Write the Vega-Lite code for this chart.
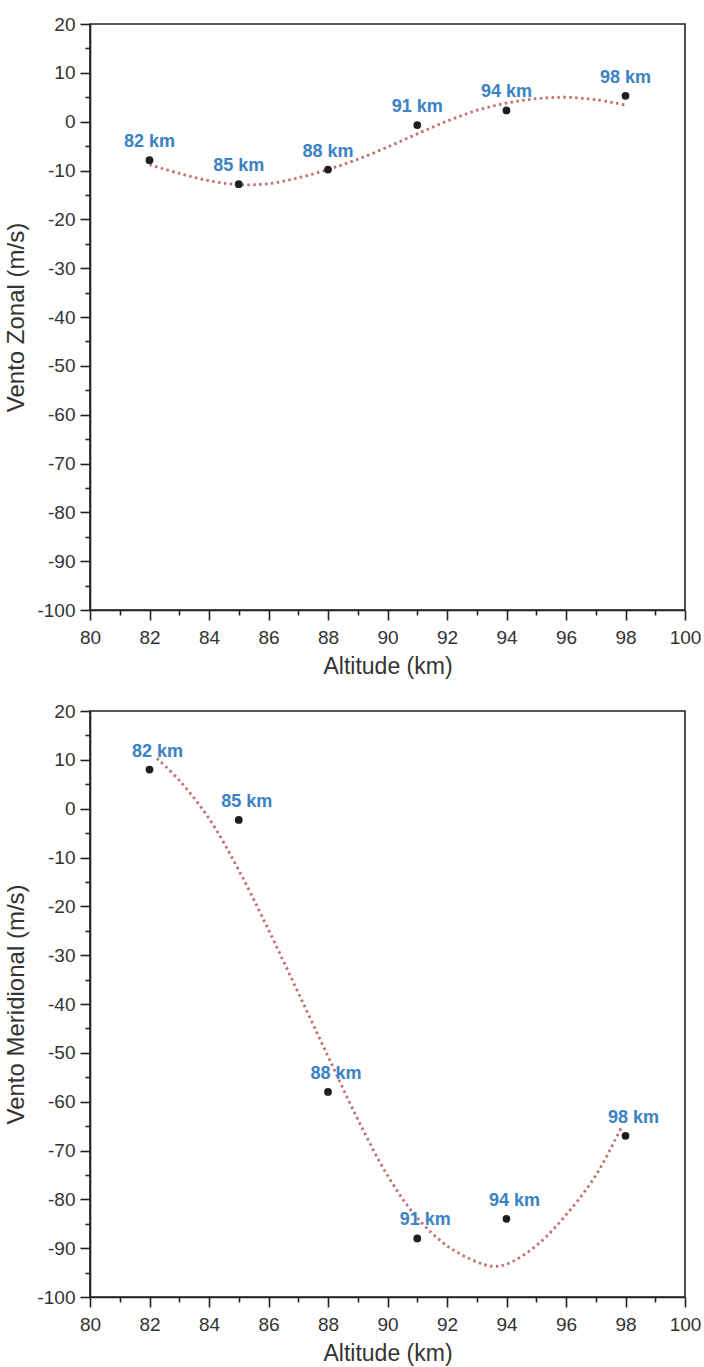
{
  "$schema": "https://vega.github.io/schema/vega-lite/v6.json",
  "background": "white",
  "padding": {"left": 4, "top": 14, "right": 4, "bottom": 0},
  "spacing": 22,
  "config": {
    "font": "Liberation Sans",
    "view": {"stroke": "#222", "strokeWidth": 1.6},
    "axis": {
      "grid": false,
      "domainColor": "#222",
      "domainWidth": 1.6,
      "tickColor": "#222",
      "tickWidth": 1.6,
      "labelColor": "#333",
      "labelFontSize": 19,
      "labelPadding": 5,
      "labelFlush": false,
      "labelOverlap": false,
      "titleColor": "#333",
      "titleFontSize": 23,
      "titleFontWeight": "normal"
    }
  },
  "datasets": {
    "zonal_points": [
      {"alt": 82, "v": -7.9, "label": "82 km"},
      {"alt": 85, "v": -12.8, "label": "85 km"},
      {"alt": 88, "v": -9.8, "label": "88 km"},
      {"alt": 91, "v": -0.7, "label": "91 km"},
      {"alt": 94, "v": 2.3, "label": "94 km"},
      {"alt": 98, "v": 5.3, "label": "98 km"}
    ],
    "zonal_curve": [
      {"alt": 82, "v": -8.8},
      {"alt": 83, "v": -10.6},
      {"alt": 84, "v": -12.1},
      {"alt": 85, "v": -12.9},
      {"alt": 86, "v": -12.7},
      {"alt": 87, "v": -11.5},
      {"alt": 88, "v": -9.8},
      {"alt": 89, "v": -7.7},
      {"alt": 90, "v": -5.2},
      {"alt": 91, "v": -2.5},
      {"alt": 92, "v": 0.1},
      {"alt": 93, "v": 2.3},
      {"alt": 94, "v": 3.8},
      {"alt": 95, "v": 4.7},
      {"alt": 96, "v": 5.0},
      {"alt": 97, "v": 4.5},
      {"alt": 98, "v": 3.4}
    ],
    "merid_points": [
      {"alt": 82, "v": 8, "label": "82 km"},
      {"alt": 85, "v": -2.3, "label": "85 km"},
      {"alt": 88, "v": -58, "label": "88 km"},
      {"alt": 91, "v": -88, "label": "91 km"},
      {"alt": 94, "v": -84, "label": "94 km"},
      {"alt": 98, "v": -67, "label": "98 km"}
    ],
    "merid_curve": [
      {"alt": 82.25, "v": 10.3},
      {"alt": 83, "v": 5.8},
      {"alt": 84, "v": -2.0},
      {"alt": 85, "v": -12.6},
      {"alt": 86, "v": -24.8},
      {"alt": 87, "v": -37.7},
      {"alt": 88, "v": -50.7},
      {"alt": 89, "v": -63.6},
      {"alt": 90, "v": -75.1},
      {"alt": 91, "v": -83.8},
      {"alt": 92, "v": -89.5},
      {"alt": 93, "v": -92.8},
      {"alt": 93.5, "v": -93.7},
      {"alt": 94, "v": -93.3},
      {"alt": 95, "v": -89.5},
      {"alt": 96, "v": -83.2},
      {"alt": 97, "v": -75.1},
      {"alt": 97.85, "v": -65.4}
    ]
  },
  "vconcat": [
    {
      "width": 595,
      "height": 586,
      "encoding": {
        "x": {
          "field": "alt", "type": "quantitative",
          "scale": {"domain": [80, 100], "nice": false, "zero": false},
          "axis": {
            "title": "Altitude (km)",
            "titlePadding": 8,
            "labelPadding": 8,
            "values": [80,81,82,83,84,85,86,87,88,89,90,91,92,93,94,95,96,97,98,99,100],
            "labelExpr": "datum.value % 2 === 0 ? '' + datum.value : ''",
            "tickSize": {"condition": {"test": "datum.value % 2 === 0", "value": 10}, "value": 5}
          }
        },
        "y": {
          "field": "v", "type": "quantitative",
          "scale": {"domain": [-100, 20], "nice": false, "zero": false},
          "axis": {
            "title": "Vento Zonal (m/s)",
            "titlePadding": 8,
            "titleFontSize": 24,
            "values": [-100,-95,-90,-85,-80,-75,-70,-65,-60,-55,-50,-45,-40,-35,-30,-25,-20,-15,-10,-5,0,5,10,15,20],
            "labelExpr": "datum.value % 10 === 0 ? '' + datum.value : ''",
            "tickSize": {"condition": {"test": "datum.value % 10 === 0", "value": 10}, "value": 5}
          }
        }
      },
      "layer": [
        {
          "data": {"name": "zonal_curve"},
          "mark": {"type": "line", "interpolate": "catmull-rom", "color": "#bb5f62", "strokeWidth": 2.8, "strokeDash": [2.5, 3.4], "opacity": 0.9}
        },
        {
          "data": {"name": "zonal_points"},
          "mark": {"type": "point", "filled": true, "color": "#1e1e1e", "size": 60, "opacity": 1}
        },
        {
          "data": {"name": "zonal_points"},
          "mark": {"type": "text", "color": "#3a82c4", "fontWeight": "bold", "fontSize": 18, "dy": -13, "baseline": "alphabetic", "align": "center"},
          "encoding": {"text": {"field": "label"}}
        }
      ]
    },
    {
      "width": 595,
      "height": 586,
      "encoding": {
        "x": {
          "field": "alt", "type": "quantitative",
          "scale": {"domain": [80, 100], "nice": false, "zero": false},
          "axis": {
            "title": "Altitude (km)",
            "titlePadding": 8,
            "labelPadding": 8,
            "values": [80,81,82,83,84,85,86,87,88,89,90,91,92,93,94,95,96,97,98,99,100],
            "labelExpr": "datum.value % 2 === 0 ? '' + datum.value : ''",
            "tickSize": {"condition": {"test": "datum.value % 2 === 0", "value": 10}, "value": 5}
          }
        },
        "y": {
          "field": "v", "type": "quantitative",
          "scale": {"domain": [-100, 20], "nice": false, "zero": false},
          "axis": {
            "title": "Vento Meridional (m/s)",
            "titlePadding": 8,
            "titleFontSize": 24,
            "values": [-100,-95,-90,-85,-80,-75,-70,-65,-60,-55,-50,-45,-40,-35,-30,-25,-20,-15,-10,-5,0,5,10,15,20],
            "labelExpr": "datum.value % 10 === 0 ? '' + datum.value : ''",
            "tickSize": {"condition": {"test": "datum.value % 10 === 0", "value": 10}, "value": 5}
          }
        }
      },
      "layer": [
        {
          "data": {"name": "merid_curve"},
          "mark": {"type": "line", "interpolate": "catmull-rom", "color": "#bb5f62", "strokeWidth": 2.8, "strokeDash": [2.5, 3.4], "opacity": 0.9}
        },
        {
          "data": {"name": "merid_points"},
          "mark": {"type": "point", "filled": true, "color": "#1e1e1e", "size": 60, "opacity": 1}
        },
        {
          "data": {"name": "merid_points"},
          "mark": {"type": "text", "color": "#3a82c4", "fontWeight": "bold", "fontSize": 18, "dx": 8, "dy": -13, "baseline": "alphabetic", "align": "center"},
          "encoding": {"text": {"field": "label"}}
        }
      ]
    }
  ]
}
